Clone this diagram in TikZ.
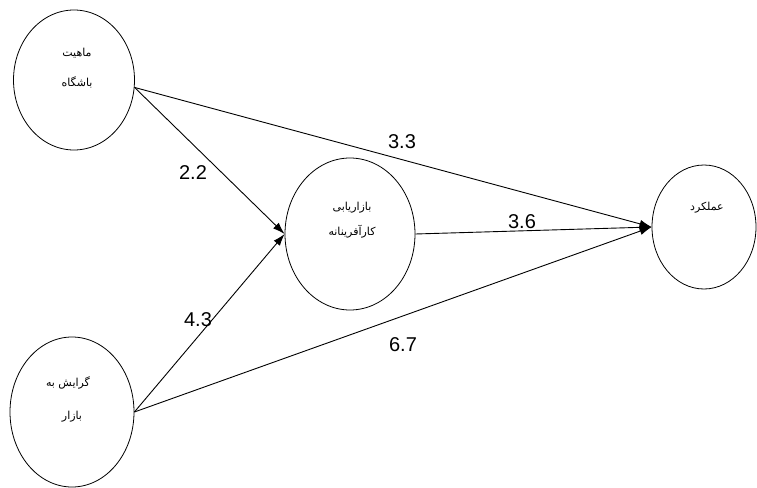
\documentclass[tikz,border=0pt]{standalone}
\usepackage{fontspec}
\setmainfont{Liberation Sans}
\newfontfamily\arabicfont[Script=Arabic]{DejaVu Sans}
\TeXXeTstate=1
\usetikzlibrary{shapes.geometric,arrows.meta}

\begin{document}
\begin{tikzpicture}[x=1pt,y=-1pt,
    construct/.style={draw, ellipse, line width=0.8pt, inner sep=0pt},
    link/.style={line width=0.9pt, -{Latex[length=12pt,width=8pt]}},
    coef/.style={font=\fontsize{20}{24}\selectfont},
    fa/.style={font=\arabicfont\fontsize{11}{13}\selectfont}]
      \useasboundingbox (0,0) rectangle (757,487);

      % Constructs
      \node[construct, minimum width=121pt, minimum height=140pt] (club) at (74,80) {};
      \node[construct, minimum width=130pt, minimum height=152pt] (mkt) at (350,234) {};
      \node[construct, minimum width=104pt, minimum height=124pt] (perf) at (704,227) {};
      \node[construct, minimum width=124pt, minimum height=150pt] (orient) at (72,412) {};

      % Construct names
      \node[fa] (clubA) at (77,53) {\beginR ماهیت\endR};
      \node[fa] (clubB) at (77,82) {\beginR باشگاه\endR};
      \node[fa] (mktA) at (352,208) {\beginR بازاریابی\endR};
      \node[fa] (mktB) at (352,232) {\beginR کارآفرینانه\endR};
      \node[fa] (perfA) at (707,208) {\beginR عملکرد\endR};
      \node[fa] (orientA) at (68,383) {\beginR گرایش به\endR};
      \node[fa] (orientB) at (72,417) {\beginR بازار\endR};

      % Paths
      \draw[link] (club.-7) -- (mkt.west);
      \draw[link] (club.-7) -- (perf.west);
      \draw[link] (orient.east) -- (mkt.west);
      \draw[link] (orient.east) -- (perf.west);
      \draw[link] (mkt.east) -- (perf.west);

      % Coefficients
      \node[coef] (c22) at (193,173) {2.2};
      \node[coef] (c33) at (402,142) {3.3};
      \node[coef] (c36) at (522,222) {3.6};
      \node[coef] (c43) at (198,320) {4.3};
      \node[coef] (c67) at (403,345) {6.7};
\end{tikzpicture}
\end{document}
